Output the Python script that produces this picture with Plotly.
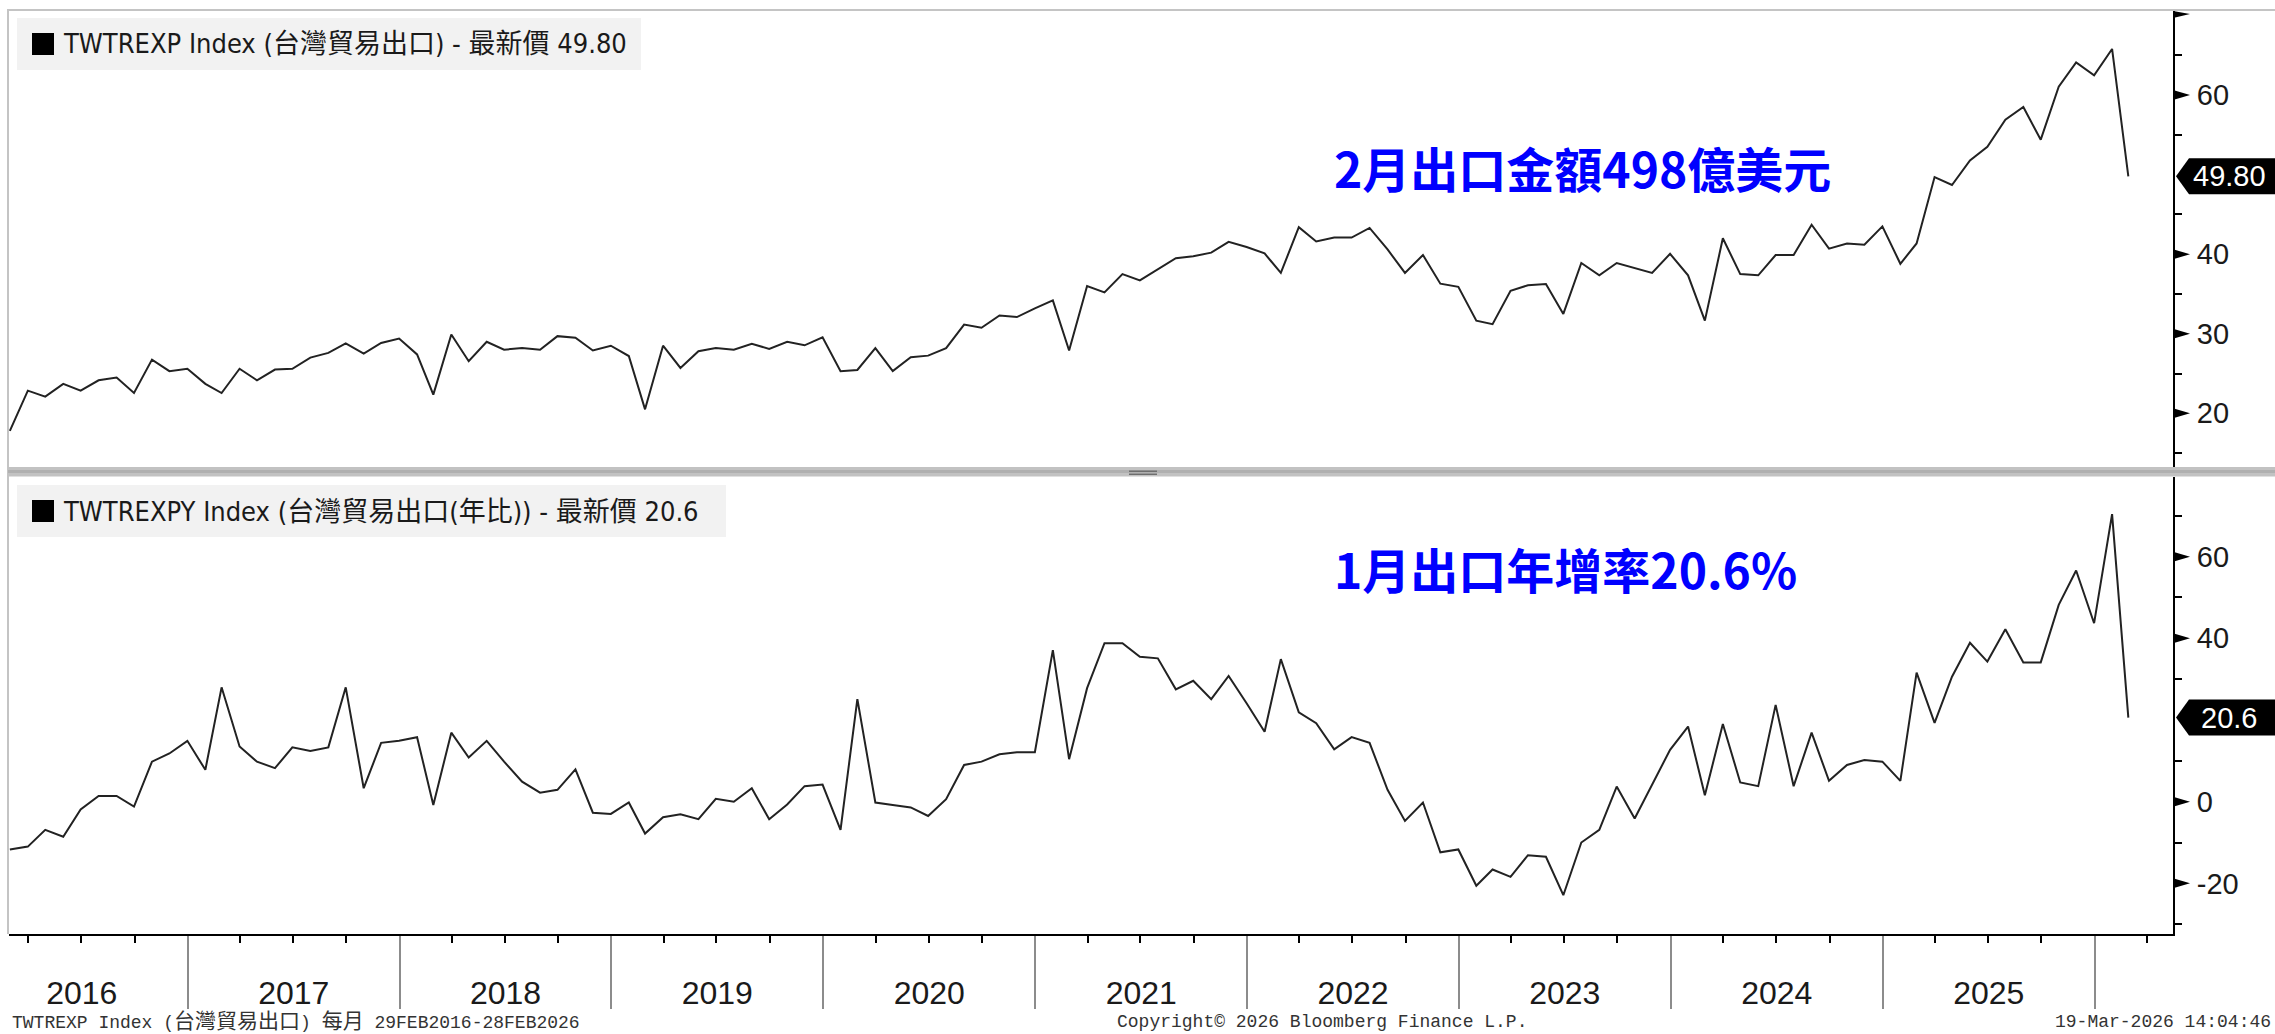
import pandas as pd
import plotly.graph_objects as go

# ---------------- data ----------------
dates = pd.date_range("2016-02-29", periods=121, freq="ME")

exports = [
    17.8, 22.85, 22.1, 23.7, 22.85, 24.15, 24.5, 22.55, 26.75, 25.3, 25.6,            # 2016 Feb-Dec
    23.7, 22.55, 25.6, 24.15, 25.5, 25.6, 27.0, 27.6, 28.8, 27.5, 28.85, 29.4,        # 2017
    27.4, 22.35, 29.9, 26.55, 29.0, 28.0, 28.2, 28.0, 29.7, 29.5, 27.9, 28.5,         # 2018
    27.2, 20.5, 28.5, 25.7, 27.8, 28.2, 28.0, 28.75, 28.1, 29.0, 28.55, 29.55,        # 2019
    25.3, 25.45, 28.2, 25.3, 27.05, 27.25, 28.2, 31.15, 30.75, 32.3, 32.1, 33.2,      # 2020
    34.2, 27.9, 36.0, 35.2, 37.5, 36.7, 38.1, 39.5, 39.75, 40.2, 41.55, 40.9,         # 2021
    40.1, 37.65, 43.4, 41.6, 42.1, 42.1, 43.3, 40.6, 37.65, 39.9, 36.3, 35.9,         # 2022
    31.65, 31.2, 35.4, 36.1, 36.25, 32.5, 38.9, 37.35, 38.9, 38.3, 37.65, 40.05,      # 2023
    37.35, 31.65, 42.0, 37.5, 37.35, 39.9, 39.9, 43.7, 40.7, 41.35, 41.2, 43.5,       # 2024
    38.8, 41.35, 49.7, 48.7, 51.8, 53.5, 56.9, 58.5, 54.4, 61.05, 64.1, 62.5,         # 2025
    65.8, 49.80,                                                                      # 2026
]

yoy = [
    -11.7, -11.0, -6.9, -8.6, -1.9, 1.4, 1.4, -1.2, 9.8, 11.8, 14.9,                  # 2016 Feb-Dec
    7.8, 28.0, 13.5, 9.8, 8.2, 13.3, 12.4, 13.3, 28.0, 3.3, 14.4, 14.9,               # 2017
    15.8, -0.8, 16.9, 10.8, 14.9, 9.8, 4.9, 2.2, 2.9, 7.9, -2.7, -3.0,                # 2018
    -0.2, -7.8, -3.8, -3.1, -4.3, 0.7, 0.0, 3.3, -4.3, -0.7, 3.8, 4.2,                # 2019
    -6.9, 25.1, -0.2, -0.8, -1.4, -3.5, 0.6, 9.0, 9.8, 11.6, 12.1, 12.1,              # 2020
    37.1, 10.4, 27.8, 38.8, 38.8, 35.5, 35.1, 27.5, 29.6, 25.1, 30.8, 24.1,           # 2021
    17.1, 34.9, 21.9, 19.2, 12.8, 15.8, 14.4, 2.9, -4.7, -0.2, -12.4, -11.7,          # 2022
    -20.6, -16.6, -18.4, -13.1, -13.5, -22.9, -10.0, -6.9, 3.7, -4.1, 4.1, 12.7,      # 2023
    18.4, 1.6, 19.0, 4.7, 3.8, 23.7, 3.8, 16.9, 5.1, 9.0, 10.2, 9.8,                  # 2024
    5.1, 31.6, 19.3, 30.6, 38.9, 34.3, 42.2, 34.1, 34.1, 48.2, 56.6, 43.7,            # 2025
    70.4, 20.6,                                                                       # 2026
]

top_ticks = [20, 30, 40, 60]
top_minor = [15, 25, 35, 45, 55, 65]
bot_ticks = [-20, 0, 40, 60]
bot_minor = [-30, -10, 10, 30, 50, 70]

top_title = "TWTREXP Index (台灣貿易出口) - 最新價 "
bot_title = "TWTREXPY Index (台灣貿易出口(年比)) - 最新價 "
top_note = "2月出口金額498億美元"
bot_note = "1月出口年增率20.6%"
footer_left = ('TWTREXP Index (<span style="font-size:21px">台灣貿易出口</span>) '
               '<span style="font-size:21px">每月</span> 29FEB2016-28FEB2026')
footer_mid = "Copyright© 2026 Bloomberg Finance L.P."
footer_right = "19-Mar-2026 14:04:46"

# ---------------- layout helpers ----------------
W, H = 2275, 1034
def px(x): return x / W
def py(y): return 1 - y / H

X0, X1 = 8.7, 2173
TOP_Y = (10, 469)
BOT_Y = (477, 934)
TOP_RANGE = [13.0, 70.7]
BOT_RANGE = [-32.4, 79.5]

LINE = "#222222"
NARROW = "Liberation Sans Narrow, DejaVu Sans Condensed, Arial Narrow, Noto Sans CJK TC, sans-serif"
SANS = "Liberation Sans, Arial, Noto Sans CJK TC, sans-serif"
MONO = "Liberation Mono, Noto Sans CJK TC, monospace"

fig = go.Figure()
fig.add_trace(go.Scatter(x=dates, y=exports, mode="lines", xaxis="x2", yaxis="y",
                         line=dict(color=LINE, width=2), showlegend=False, hoverinfo="skip"))
fig.add_trace(go.Scatter(x=dates, y=yoy, mode="lines", xaxis="x", yaxis="y2",
                         line=dict(color=LINE, width=2), showlegend=False, hoverinfo="skip"))

x_range = ["2016-02-27", "2026-05-16"]
yaxis_common = dict(
    side="right", showline=True, linecolor="black", linewidth=2, showgrid=False, zeroline=False,
    ticks="outside", ticklen=16, tickcolor="rgba(0,0,0,0)", tickmode="array",
    tickfont=dict(family=SANS, size=29, color="#1a1a1a"),
)

fig.update_layout(
    width=W, height=H, margin=dict(l=0, r=0, t=0, b=0),
    paper_bgcolor="white", plot_bgcolor="white",
    xaxis=dict(
        type="date", range=x_range, domain=[px(X0), px(X1)], anchor="y2",
        showline=True, linecolor="black", linewidth=2, showgrid=False, zeroline=False,
        tickmode="linear", tick0="2016-01-01", dtick="M12",
        ticks="outside", ticklen=73, tickwidth=1.5, tickcolor="#8c8c8c",
        ticklabelmode="period", tickformat="%Y", ticklabelstandoff=-43,
        tickfont=dict(family=SANS, size=32, color="#1a1a1a"),
        minor=dict(ticks="outside", tick0="2016-01-01", dtick="M3", ticklen=7,
                   tickwidth=2, tickcolor="black", showgrid=False),
    ),
    xaxis2=dict(
        type="date", range=x_range, domain=[px(X0), px(X1)], anchor="y", matches="x",
        showline=False, showticklabels=False, ticks="", showgrid=False, zeroline=False,
    ),
    yaxis=dict(domain=[py(TOP_Y[1]), py(TOP_Y[0])], range=TOP_RANGE, anchor="x2",
               tickvals=top_ticks, ticktext=[str(v) for v in top_ticks],
               minor=dict(tickmode="array", tickvals=top_minor, ticks="outside", ticklen=7,
                          tickwidth=2, tickcolor="black", showgrid=False),
               **yaxis_common),
    yaxis2=dict(domain=[py(BOT_Y[1]), py(BOT_Y[0])], range=BOT_RANGE, anchor="x",
                tickvals=bot_ticks, ticktext=[str(v) for v in bot_ticks],
                minor=dict(tickmode="array", tickvals=bot_minor, ticks="outside", ticklen=7,
                           tickwidth=2, tickcolor="black", showgrid=False),
                **yaxis_common),
)

shapes = []
# outer frame (top and left, light grey)
shapes.append(dict(type="line", xref="paper", yref="paper", x0=px(7), x1=1, y0=py(10), y1=py(10),
                   line=dict(color="#c4c4c4", width=2), layer="above"))
shapes.append(dict(type="line", xref="paper", yref="paper", x0=px(8), x1=px(8), y0=py(10), y1=py(934),
                   line=dict(color="#c4c4c4", width=2), layer="above"))
# panel divider and handle
shapes.append(dict(type="rect", xref="paper", yref="paper", x0=px(8), x1=1, y0=py(476.5), y1=py(467),
                   fillcolor="#c2c2c2", line=dict(width=0), layer="above"))
shapes.append(dict(type="rect", xref="paper", yref="paper", x0=px(8), x1=1, y0=py(473), y1=py(470),
                   fillcolor="#b0b0b0", line=dict(width=0), layer="above"))
for yy in (470.5, 473.5):
    shapes.append(dict(type="rect", xref="paper", yref="paper", x0=px(1129), x1=px(1157),
                       y0=py(yy + 1.5), y1=py(yy), fillcolor="#6e6e6e", line=dict(width=0), layer="above"))
# legend boxes + black squares
for (bx0, by0, bx1, by1) in [(17, 18, 641, 70), (17, 485, 726, 537)]:
    shapes.append(dict(type="rect", xref="paper", yref="paper", x0=px(bx0), x1=px(bx1),
                       y0=py(by1), y1=py(by0), fillcolor="#f2f2f2", line=dict(width=0), layer="above"))
    cy = (by0 + by1) / 2
    shapes.append(dict(type="rect", xref="paper", yref="paper", x0=px(32), x1=px(54),
                       y0=py(cy + 11), y1=py(cy - 11), fillcolor="black", line=dict(width=0), layer="above"))

# Bloomberg-style triangular major tick pointers
tri = "M0,5 L17,0 L0,-5 Z"
for yref, vals in (("y", top_ticks), ("y2", bot_ticks)):
    for v in vals:
        shapes.append(dict(type="path", xref="paper", yref=yref, xsizemode="pixel", ysizemode="pixel",
                           xanchor=px(X1), yanchor=v, path=tri, fillcolor="black",
                           line=dict(width=0), layer="above"))
# flag at top of the axis
shapes.append(dict(type="path", xref="paper", yref="paper", xsizemode="pixel", ysizemode="pixel",
                   xanchor=px(X1), yanchor=py(10), path="M0,-1 L17,-4 L0,-8 Z",
                   fillcolor="black", line=dict(width=0), layer="above"))
# last-value price labels
box = "M3,0 L16,18 L102,18 L102,-18 L16,-18 Z"
for yref, v in (("y", exports[-1]), ("y2", yoy[-1])):
    shapes.append(dict(type="path", xref="paper", yref=yref, xsizemode="pixel", ysizemode="pixel",
                       xanchor=px(X1), yanchor=v, path=box, fillcolor="black",
                       line=dict(width=0), layer="above"))
fig.update_layout(shapes=shapes)

ann = []
ann.append(dict(xref="paper", yref="y", x=px(2229), y=exports[-1], text=f"{exports[-1]:.2f}",
                showarrow=False, xanchor="center", yanchor="middle",
                font=dict(family=SANS, size=29, color="white")))
ann.append(dict(xref="paper", yref="y2", x=px(2229), y=yoy[-1], text=f"{yoy[-1]:.1f}",
                showarrow=False, xanchor="center", yanchor="middle",
                font=dict(family=SANS, size=29, color="white")))
ann.append(dict(xref="paper", yref="paper", x=px(61), y=py(44), text=top_title + f"{exports[-1]:.2f}",
                showarrow=False, xanchor="left", yanchor="middle",
                font=dict(family=NARROW, size=27, color="#1a1a1a")))
ann.append(dict(xref="paper", yref="paper", x=px(61), y=py(511), text=bot_title + f"{yoy[-1]:.1f}",
                showarrow=False, xanchor="left", yanchor="middle",
                font=dict(family=NARROW, size=27, color="#1a1a1a")))
ann.append(dict(xref="paper", yref="paper", x=px(1332), y=py(167), text=top_note,
                showarrow=False, xanchor="left", yanchor="middle",
                font=dict(family="Noto Sans CJK TC, sans-serif", size=48, color="#0000ff", weight="bold")))
ann.append(dict(xref="paper", yref="paper", x=px(1332), y=py(568), text=bot_note,
                showarrow=False, xanchor="left", yanchor="middle",
                font=dict(family="Noto Sans CJK TC, sans-serif", size=48, color="#0000ff", weight="bold")))
ann.append(dict(xref="paper", yref="paper", x=px(10), y=py(1022), text=footer_left,
                showarrow=False, xanchor="left", yanchor="middle",
                font=dict(family=MONO, size=18, color="#333333")))
ann.append(dict(xref="paper", yref="paper", x=px(1322), y=py(1022), text=footer_mid,
                showarrow=False, xanchor="center", yanchor="middle",
                font=dict(family=MONO, size=18, color="#333333")))
ann.append(dict(xref="paper", yref="paper", x=px(2273), y=py(1022), text=footer_right,
                showarrow=False, xanchor="right", yanchor="middle",
                font=dict(family=MONO, size=18, color="#333333")))
fig.update_layout(annotations=ann)

fig.write_html(
    "out.html",
    config={"displayModeBar": False},
    post_script="document.body.style.margin='0';document.body.style.padding='0';"
                "document.body.style.overflow='hidden';",
)
